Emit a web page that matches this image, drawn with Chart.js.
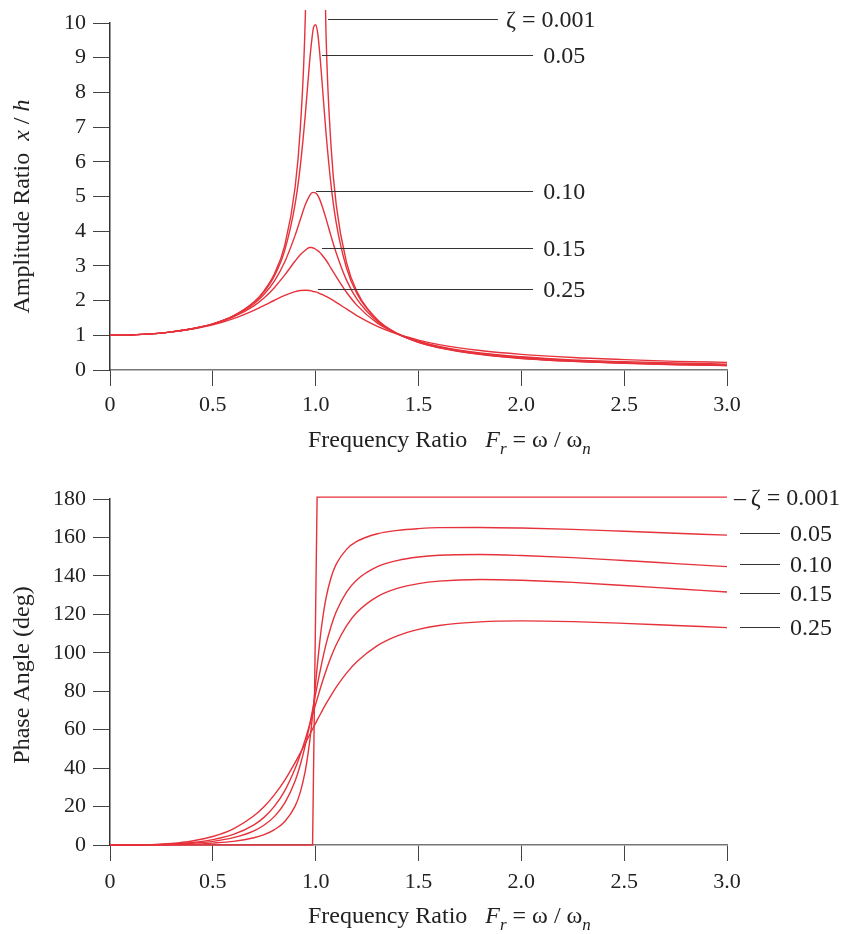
<!DOCTYPE html>
<html>
<head>
<meta charset="utf-8">
<script src="https://cdn.jsdelivr.net/npm/chart.js@4"></script>
<style>
  body { margin: 0; background: #fff; }
  #wrap { position: relative; width: 842px; height: 934px; }
  canvas { position: absolute; left: 0; }
</style>
</head>
<body>
<div id="wrap">
  <canvas id="amp" width="842" height="467" style="top:0"></canvas>
  <canvas id="phase" width="842" height="467" style="top:467px"></canvas>
</div>
<script>
// frequency ratio samples (shared by the smooth curves)
const freqRatio = [0, 0.1, 0.2, 0.3, 0.4, 0.5, 0.6, 0.7, 0.75, 0.8, 0.85, 0.9, 0.925, 0.95, 0.97, 0.98, 0.99,
  1.0, 1.01, 1.02, 1.03, 1.05, 1.075, 1.1, 1.15, 1.2, 1.3, 1.4, 1.5, 1.6, 1.8, 2.0, 2.25, 2.5, 2.75, 3.0];

// amplitude ratio x/h
const amp001 = [1.00, 1.01, 1.04, 1.10, 1.19, 1.33, 1.56, 1.96, 2.29, 2.78, 3.60, 5.26, 6.93, 10.26, 16.9,
  null, null, null, null, null, 16.4, 9.76, 6.43, 4.76, 3.10, 2.27, 1.45, 1.04, 0.80, 0.64, 0.45, 0.33, 0.25, 0.19, 0.15, 0.125];
const amp05 = [1.00, 1.01, 1.04, 1.10, 1.19, 1.33, 1.56, 1.95, 2.26, 2.72, 3.46, 4.78, 5.86, 7.38, 8.85, 9.45, 9.88,
  9.95, 9.70, 9.12, 8.38, 6.85, 5.32, 4.24, 2.94, 2.21, 1.44, 1.04, 0.80, 0.65, 0.45, 0.34, 0.25, 0.20, 0.16, 0.13];
const amp10 = [1.00, 1.01, 1.04, 1.10, 1.19, 1.33, 1.55, 1.91, 2.19, 2.57, 3.12, 3.88, 4.33, 4.77, 5.02, 5.10, 5.12,
  5.10, 5.03, 4.91, 4.75, 4.37, 3.85, 3.37, 2.59, 2.05, 1.40, 1.04, 0.81, 0.66, 0.47, 0.36, 0.27, 0.21, 0.17, 0.145];
const amp15 = [1.00, 1.01, 1.04, 1.10, 1.19, 1.32, 1.53, 1.85, 2.08, 2.38, 2.74, 3.14, 3.32, 3.45, 3.53, 3.53, 3.51,
  3.48, 3.44, 3.39, 3.32, 3.17, 2.93, 2.69, 2.24, 1.87, 1.35, 1.04, 0.83, 0.68, 0.49, 0.38, 0.29, 0.24, 0.20, 0.17];
const amp25 = [1.00, 1.01, 1.04, 1.10, 1.18, 1.30, 1.48, 1.72, 1.86, 2.01, 2.15, 2.26, 2.29, 2.30, 2.29, 2.28, 2.26,
  2.25, 2.23, 2.20, 2.18, 2.12, 2.04, 1.95, 1.76, 1.57, 1.26, 1.03, 0.86, 0.73, 0.56, 0.45, 0.36, 0.30, 0.25, 0.22];

// phase angle (deg)
const phaseStepR = [0, 0.985, 1.007, 3.0];
const phase001 = [0, 0, 181, 181];
const phase05 = [0, 0, 0.05, 0.2, 0.4, 1.0, 1.9, 3.8, 5.4, 8.0, 12.2, 20.2, 27.4, 38.8, 53.1, 62.4, 73.0,
  84.3, 95.5, 105.8, 114.7, 128.3, 139.2, 146.1, 153.8, 157.9, 161.9, 163.7, 164.6, 165.1, 165.2, 164.9, 164.2, 163.2, 162.2, 161.2];
const phase10 = [0, 0, 0.1, 0.3, 0.9, 1.9, 3.8, 7.4, 10.4, 14.9, 21.9, 33.3, 41.6, 52.1, 62.1, 67.5, 73.1,
  78.7, 84.3, 89.7, 94.8, 104.2, 113.8, 121.3, 131.6, 137.9, 144.8, 148.1, 149.8, 150.7, 151.1, 150.6, 149.5, 148.0, 146.4, 144.8];
const phase15 = [0, 0, 0.1, 0.5, 1.3, 2.8, 5.5, 10.5, 14.5, 20.2, 28.3, 39.8, 47.0, 55.2, 62.3, 66.0, 69.6,
  73.3, 76.9, 80.5, 84.0, 90.5, 97.9, 104.2, 114.0, 120.9, 129.2, 133.6, 136.0, 137.3, 138.1, 137.7, 136.6, 135.0, 133.3, 131.6];
const phase25 = [0, 0, 0.2, 0.8, 2.1, 4.4, 8.4, 15.2, 20.0, 26.2, 33.8, 42.9, 47.8, 53.0, 57.2, 59.3, 61.4,
  63.4, 65.5, 67.5, 69.5, 73.4, 77.9, 82.1, 89.4, 95.3, 103.7, 108.9, 112.2, 114.2, 116.1, 116.6, 116.2, 115.3, 114.2, 113.1];

const xTickLabels = ['0', '0.5', '1.0', '1.5', '2.0', '2.5', '3.0'];

// curve labels (placed in data units)
const ampNoteText = ['ζ = 0.001', '0.05', '0.10', '0.15', '0.25'];
const ampNoteY = [10.12, 9.08, 5.16, 3.52, 2.33];
const ampNoteX1 = [1.06, 1.031, 1.002, 1.031, 1.011];
const ampNoteX2 = [1.886, 2.057, 2.057, 2.057, 2.057];

const phaseNoteText = ['–\u2009ζ = 0.001', '0.05', '0.10', '0.15', '0.25'];
const phaseNoteY = [181, 162.1, 146.0, 130.9, 113.6];
const phaseNoteX1 = [null, 3.063, 3.063, 3.063, 3.063];
const phaseNoteX2 = [null, 3.258, 3.258, 3.258, 3.258];

const RED = '#e6323b';
const SERIF = '"Liberation Serif", "Times New Roman", serif';

function pts(xs, ys) {
  return ys.map((y, i) => ({ x: xs[i], y: y }));
}

function line(xs, ys, smooth) {
  return {
    data: pts(xs, ys),
    borderColor: RED,
    borderWidth: 1.4,
    pointRadius: 0,
    fill: false,
    spanGaps: false,
    tension: 0,
    cubicInterpolationMode: smooth ? 'monotone' : 'default',
    clip: { left: 2, top: 13, right: 2, bottom: 2 }
  };
}

function drawRuns(ctx, runs, x, y, size) {
  let cx = x;
  runs.forEach(r => {
    const s = r.sub ? Math.round(size * 0.72) : size;
    ctx.font = (r.it ? 'italic ' : '') + s + 'px ' + SERIF;
    ctx.fillText(r.t, cx, y + (r.sub ? size * 0.28 : 0));
    cx += ctx.measureText(r.t).width;
  });
}

function runsWidth(ctx, runs, size) {
  let w = 0;
  runs.forEach(r => {
    const s = r.sub ? Math.round(size * 0.72) : size;
    ctx.font = (r.it ? 'italic ' : '') + s + 'px ' + SERIF;
    w += ctx.measureText(r.t).width;
  });
  return w;
}

const xTitleRuns = [
  { t: 'Frequency Ratio   ' }, { t: 'F', it: true }, { t: 'r', it: true, sub: true },
  { t: ' = ω / ω' }, { t: 'n', it: true, sub: true }
];

function notesPlugin(opt) {
  return {
    id: 'notes',
    afterDraw(chart) {
      const ctx = chart.ctx;
      const xs = chart.scales.x, ys = chart.scales.y;
      const area = chart.chartArea;
      ctx.save();
      ctx.fillStyle = '#222';
      ctx.textBaseline = 'alphabetic';
      // x title
      drawRuns(ctx, xTitleRuns, area.left + 198, area.bottom + opt.xTitleDrop, 24);
      // y title, rotated
      const w = runsWidth(ctx, opt.yTitle, 24);
      ctx.save();
      ctx.translate(29, (area.top + area.bottom) / 2 + opt.yTitleShift);
      ctx.rotate(-Math.PI / 2);
      drawRuns(ctx, opt.yTitle, -w / 2, 0, 24);
      ctx.restore();
      // curve labels
      ctx.strokeStyle = '#333';
      ctx.lineWidth = 1;
      ctx.font = '24px ' + SERIF;
      ctx.textBaseline = 'middle';
      opt.text.forEach((t, i) => {
        const py = Math.round(ys.getPixelForValue(opt.y[i])) + 0.5;
        if (opt.x1[i] !== null) {
          ctx.beginPath();
          ctx.moveTo(xs.getPixelForValue(opt.x1[i]), py);
          ctx.lineTo(xs.getPixelForValue(opt.x2[i]), py);
          ctx.stroke();
        }
        ctx.fillText(t, xs.getPixelForValue(opt.tx[i]), py + 1);
      });
      ctx.restore();
    }
  };
}

function axes(yMax, yStep, xHeight, xPad) {
  return {
    x: {
      type: 'linear', min: 0, max: 3,
      afterFit: s => { s.height = xHeight; },
      border: { display: true, color: '#777', width: 1.5 },
      grid: { display: true, drawOnChartArea: false, drawTicks: true, tickLength: 16, color: '#444', lineWidth: 1 },
      ticks: {
        stepSize: 0.5, padding: xPad, color: '#222', font: { family: SERIF, size: 22 },
        maxRotation: 0, autoSkip: false,
        callback: (v, i) => xTickLabels[i]
      }
    },
    y: {
      min: 0, max: yMax,
      afterFit: s => { s.width = 110; },
      border: { display: true, color: '#333', width: 1.5 },
      grid: { display: true, drawOnChartArea: false, drawTicks: true, tickLength: 17, color: '#444', lineWidth: 1 },
      ticks: { stepSize: yStep, padding: 7, color: '#222', font: { family: SERIF, size: 22 } }
    }
  };
}

Chart.defaults.font.family = SERIF;

new Chart(document.getElementById('amp').getContext('2d'), {
  type: 'line',
  data: {
    datasets: [
      line(freqRatio, amp001, true),
      line(freqRatio, amp05, true),
      line(freqRatio, amp10, true),
      line(freqRatio, amp15, true),
      line(freqRatio, amp25, true)
    ]
  },
  options: {
    responsive: false,
    animation: false,
    layout: { padding: { left: 0, right: 115, top: 23, bottom: 0 } },
    plugins: { legend: { display: false }, tooltip: { enabled: false } },
    scales: axes(10, 1, 97, 6)
  },
  plugins: [notesPlugin({
    yTitle: [{ t: 'Amplitude Ratio  ' }, { t: 'x', it: true }, { t: ' / ' }, { t: 'h', it: true }],
    yTitleShift: 10,
    xTitleDrop: 77,
    text: ampNoteText, y: ampNoteY, x1: ampNoteX1, x2: ampNoteX2,
    tx: ampNoteX2.map((v, i) => v + (i === 0 ? 0.04 : 0.05))
  })]
});

new Chart(document.getElementById('phase').getContext('2d'), {
  type: 'line',
  data: {
    datasets: [
      line(phaseStepR, phase001, false),
      line(freqRatio, phase05, true),
      line(freqRatio, phase10, true),
      line(freqRatio, phase15, true),
      line(freqRatio, phase25, true)
    ]
  },
  options: {
    responsive: false,
    animation: false,
    layout: { padding: { left: 0, right: 115, top: 32, bottom: 0 } },
    plugins: { legend: { display: false }, tooltip: { enabled: false } },
    scales: axes(180, 20, 89, 8)
  },
  plugins: [notesPlugin({
    yTitle: [{ t: 'Phase Angle (deg)' }],
    yTitleShift: 3,
    xTitleDrop: 78,
    text: phaseNoteText, y: phaseNoteY, x1: phaseNoteX1, x2: phaseNoteX2,
    tx: [3.034, 3.306, 3.306, 3.306, 3.306]
  })]
});
</script>
</body>
</html>
